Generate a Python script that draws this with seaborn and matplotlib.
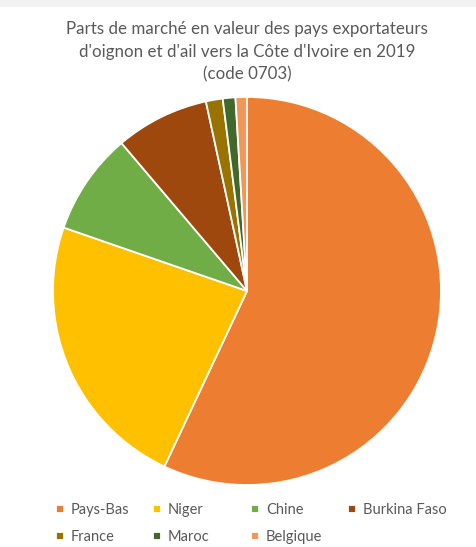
import matplotlib
matplotlib.use("Agg")
import matplotlib.pyplot as plt
import seaborn as sns
from matplotlib.patches import Rectangle

countries = ["Pays-Bas", "Niger", "Chine", "Burkina Faso", "France", "Maroc", "Belgique"]
shares = [57.0, 23.3, 8.5, 7.8, 1.4, 1.05, 0.95]
colors = ["#ED7D31", "#FFC000", "#70AD47", "#9E480E", "#997300", "#43682B", "#F1975A"]
title = "Parts de marché en valeur des pays exportateurs\nd'oignon et d'ail vers la Côte d'Ivoire en 2019\n(code 0703)"

sns.set_theme(style="white")
plt.rcParams['font.family'] = ['Lato', 'DejaVu Sans']

W, H = 477, 547
fig = plt.figure(figsize=(W / 100, H / 100), dpi=100)
fig.patch.set_facecolor("white")

# light gray strip at top
fig.patches.append(Rectangle((0, 1 - 7 / H), 1, 7 / H, transform=fig.transFigure,
                             facecolor="#F2F2F2", edgecolor="none", zorder=0))

cx, cy, r = 247, 291, 194
ax = fig.add_axes([(cx - r) / W, (H - cy - r) / H, 2 * r / W, 2 * r / H])
palette = sns.color_palette(colors)
wedges, _ = ax.pie(shares, colors=palette, startangle=90, counterclock=False,
                   radius=1, wedgeprops=dict(edgecolor="white", linewidth=1.3))
ax.set_xlim(-1, 1)
ax.set_ylim(-1, 1)
ax.set_aspect("equal")
ax.axis("off")

fig.text(cx / W, 1 - 21 / H, title, ha="center", va="top", fontsize=12.2,
         color="#595959", linespacing=1.52)

# legend: 4 evenly spaced columns, row-major order
col_x = [56, 153, 251, 348]
n = len(countries)
for c, x0 in enumerate(col_x):
    idx = [i for i in range(c, n, 4)]
    leg = fig.legend([wedges[i] for i in idx], [countries[i] for i in idx],
                     loc="upper left", bbox_to_anchor=(x0 / W, 1 - 503 / H),
                     frameon=False, fontsize=10.5, handlelength=0.52, handleheight=0.52,
                     handletextpad=0.5, labelspacing=0.9, borderaxespad=0, borderpad=0)
    for t in leg.get_texts():
        t.set_color("#595959")

fig.savefig("out.png", dpi=100)
